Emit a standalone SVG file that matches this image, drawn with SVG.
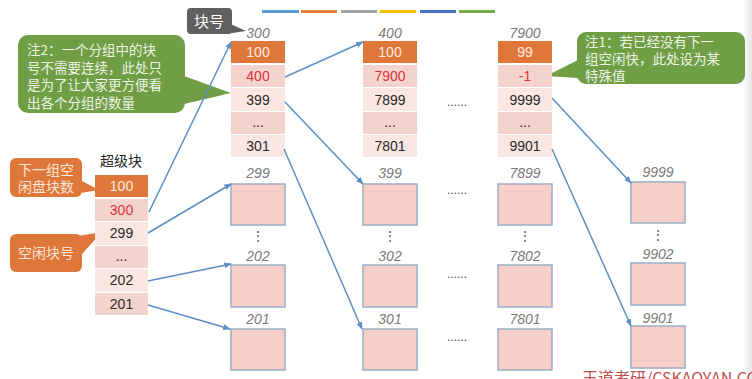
<svg xmlns="http://www.w3.org/2000/svg" width="752" height="379" viewBox="0 0 752 379">
<defs>
<marker id="ah" viewBox="0 0 10 10" refX="9" refY="5" markerWidth="5" markerHeight="5" orient="auto"><path d="M0,1 L10,5 L0,9 z" fill="#5B8FC7"/></marker>
<linearGradient id="edge" x1="0" x2="1"><stop offset="0" stop-color="#fff"/><stop offset="1" stop-color="#e6e6e6"/></linearGradient>
</defs>
<style>
.t{font-family:"Liberation Sans","Noto Sans CJK SC",sans-serif;font-size:14px;text-anchor:middle}
.cn{font-family:"Noto Sans CJK SC",sans-serif;text-anchor:middle}
.lab{font-family:"Liberation Sans",sans-serif;font-size:14px;font-style:italic;fill:#7a7a7a;text-anchor:middle}
.or{fill:#E0773A}
.pk{fill:#F4D3CC}
.lp{fill:#FAE6E2}
.box{fill:#F6CFC6;stroke:#9AADC6;stroke-width:1.5}
.w{fill:#FBEBE0}
.r{fill:#E0343C}
.k{fill:#2a2a2a}
.con{stroke:#5B8FC7;stroke-width:1.5;fill:none;marker-end:url(#ah)}
.dots{font-family:"Liberation Sans",sans-serif;font-size:12px;fill:#444;text-anchor:middle}
.gn{fill:#6F9E45}
.gt{font-family:"Noto Sans CJK SC",sans-serif;font-size:13.5px;fill:#EEF4E6}
.ot{font-family:"Noto Sans CJK SC",sans-serif;font-size:14px;fill:#FBE6D8;text-anchor:middle}
</style>
<rect width="752" height="379" fill="#fff"/>
<rect x="742" y="0" width="10" height="379" fill="url(#edge)"/>
<g id="legend">
<rect x="262" y="10" width="37" height="3" fill="#5B9BD5"/>
<rect x="301" y="10" width="36" height="3" fill="#ED7D31"/>
<rect x="341" y="10" width="36" height="3" fill="#A5A5A5"/>
<rect x="380" y="10" width="36" height="3" fill="#FFC000"/>
<rect x="420" y="10" width="36" height="3" fill="#4472C4"/>
<rect x="459" y="10" width="36" height="3" fill="#70AD47"/>
</g>
<g id="label-kuaihao">
<rect x="187" y="8" width="45" height="26" rx="4" fill="#606060"/>
<polygon points="226,22 246,31 226,34" fill="#606060"/>
<text x="209" y="27" class="cn" font-size="15" fill="#fff">块号</text>
</g>
<g id="note2">
<rect x="18" y="35" width="167" height="78" rx="10" class="gn"/>
<polygon points="184,76 231,93 184,104" class="gn"/>
<text x="27" y="55" class="gt">注2：一个分组中的块</text>
<text x="27" y="72.5" class="gt">号不需要连续，此处只</text>
<text x="27" y="90" class="gt">是为了让大家更方便看</text>
<text x="27" y="107.5" class="gt">出各个分组的数量</text>
</g>
<g id="note1">
<rect x="577" y="32" width="168" height="52" rx="9" class="gn"/>
<polygon points="578,60 546,76 578,78" class="gn"/>
<text x="585" y="47" class="gt">注1：若已经没有下一</text>
<text x="585" y="64" class="gt">组空闲快，此处设为某</text>
<text x="585" y="81" class="gt">特殊值</text>
</g>
<g id="callout-count">
<rect x="10" y="158" width="72" height="39" rx="6" class="or"/>
<polygon points="80,180 99,190 80,193" class="or"/>
<text x="46" y="175" class="ot">下一组空</text>
<text x="46" y="192" class="ot">闲盘块数</text>
</g>
<g id="callout-free">
<rect x="10" y="234" width="72" height="38" rx="6" class="or"/>
<polygon points="78,236 102,232 82,254" class="or"/>
<text x="46" y="258" class="ot">空闲块号</text>
</g>
<g id="superblock">
<text x="121" y="166" class="cn" font-size="14" fill="#222">超级块</text>
<rect x="95" y="175" width="53" height="22" class="or"/><text x="121.5" y="191" class="t w">100</text>
<rect x="95" y="199" width="53" height="22" class="pk"/><text x="121.5" y="215" class="t r">300</text>
<rect x="95" y="222" width="53" height="23" class="lp"/><text x="121.5" y="238" class="t k">299</text>
<rect x="95" y="246" width="53" height="22" class="pk"/><text x="121.5" y="261" class="t k">...</text>
<rect x="95" y="269" width="53" height="23" class="lp"/><text x="121.5" y="285" class="t k">202</text>
<rect x="95" y="293" width="53" height="22" class="pk"/><text x="121.5" y="309" class="t k">201</text>
</g>
<g id="group300">
<text x="258" y="38" class="lab">300</text>
<rect x="231" y="41" width="54" height="22" class="or"/><text x="258" y="57" class="t w">100</text>
<rect x="231" y="65" width="54" height="22" class="pk"/><text x="258" y="81" class="t r">400</text>
<rect x="231" y="88" width="54" height="23" class="lp"/><text x="258" y="105" class="t k">399</text>
<rect x="231" y="112" width="54" height="22" class="pk"/><text x="258" y="127" class="t k">...</text>
<rect x="231" y="135" width="54" height="22" class="lp"/><text x="258" y="151" class="t k">301</text>
</g>
<g id="group400">
<text x="390" y="38" class="lab">400</text>
<rect x="363" y="41" width="54" height="22" class="or"/><text x="390" y="57" class="t w">100</text>
<rect x="363" y="65" width="54" height="22" class="pk"/><text x="390" y="81" class="t r">7900</text>
<rect x="363" y="88" width="54" height="23" class="lp"/><text x="390" y="105" class="t k">7899</text>
<rect x="363" y="112" width="54" height="22" class="pk"/><text x="390" y="127" class="t k">...</text>
<rect x="363" y="135" width="54" height="22" class="lp"/><text x="390" y="151" class="t k">7801</text>
</g>
<g id="group7900">
<text x="525" y="38" class="lab">7900</text>
<rect x="498" y="41" width="54" height="22" class="or"/><text x="525" y="57" class="t w">99</text>
<rect x="498" y="65" width="54" height="22" class="pk"/><text x="525" y="81" class="t r">-1</text>
<rect x="498" y="88" width="54" height="23" class="lp"/><text x="525" y="105" class="t k">9999</text>
<rect x="498" y="112" width="54" height="22" class="pk"/><text x="525" y="127" class="t k">...</text>
<rect x="498" y="135" width="54" height="22" class="lp"/><text x="525" y="151" class="t k">9901</text>
</g>
<g id="blocksA">
<text x="258" y="178" class="lab">299</text><rect x="231" y="184" width="54" height="41" class="box"/>
<text x="258" y="240" class="dots">⋮</text>
<text x="258" y="261" class="lab">202</text><rect x="231" y="265" width="54" height="42" class="box"/>
<text x="258" y="324" class="lab">201</text><rect x="231" y="329" width="54" height="41" class="box"/>
</g>
<g id="blocksB">
<text x="390" y="178" class="lab">399</text><rect x="363" y="184" width="54" height="41" class="box"/>
<text x="390" y="240" class="dots">⋮</text>
<text x="390" y="261" class="lab">302</text><rect x="363" y="265" width="54" height="42" class="box"/>
<text x="390" y="324" class="lab">301</text><rect x="363" y="329" width="54" height="41" class="box"/>
</g>
<g id="blocksC">
<text x="525" y="178" class="lab">7899</text><rect x="498" y="184" width="54" height="41" class="box"/>
<text x="525" y="240" class="dots">⋮</text>
<text x="525" y="261" class="lab">7802</text><rect x="498" y="265" width="54" height="42" class="box"/>
<text x="525" y="324" class="lab">7801</text><rect x="498" y="329" width="54" height="41" class="box"/>
</g>
<g id="blocksD">
<text x="658" y="177" class="lab">9999</text><rect x="631" y="182" width="54" height="41" class="box"/>
<text x="658" y="239" class="dots">⋮</text>
<text x="658" y="259" class="lab">9902</text><rect x="631" y="263" width="54" height="42" class="box"/>
<text x="658" y="323" class="lab">9901</text><rect x="631" y="326" width="54" height="42" class="box"/>
</g>
<g id="ellipses" class="dots">
<text x="457" y="106">......</text>
<text x="457" y="194">......</text>
<text x="457" y="278">......</text>
<text x="457" y="341">......</text>
</g>
<g id="connectors">
<line x1="149" y1="212" x2="231" y2="42" class="con"/>
<line x1="148" y1="233" x2="231" y2="184" class="con"/>
<line x1="148" y1="281" x2="231" y2="264" class="con"/>
<line x1="148" y1="305" x2="230" y2="329" class="con"/>
<line x1="285" y1="77" x2="363" y2="42" class="con"/>
<line x1="285" y1="102" x2="363" y2="184" class="con"/>
<line x1="284" y1="149" x2="362" y2="329" class="con"/>
<line x1="552" y1="98" x2="631" y2="183" class="con"/>
<line x1="552" y1="149" x2="631" y2="326" class="con"/>
</g>
<text x="582" y="384" font-family="Noto Sans CJK SC,sans-serif" font-size="16" fill="#C0504D">王道考研/CSKAOYAN.COM</text>
</svg>
